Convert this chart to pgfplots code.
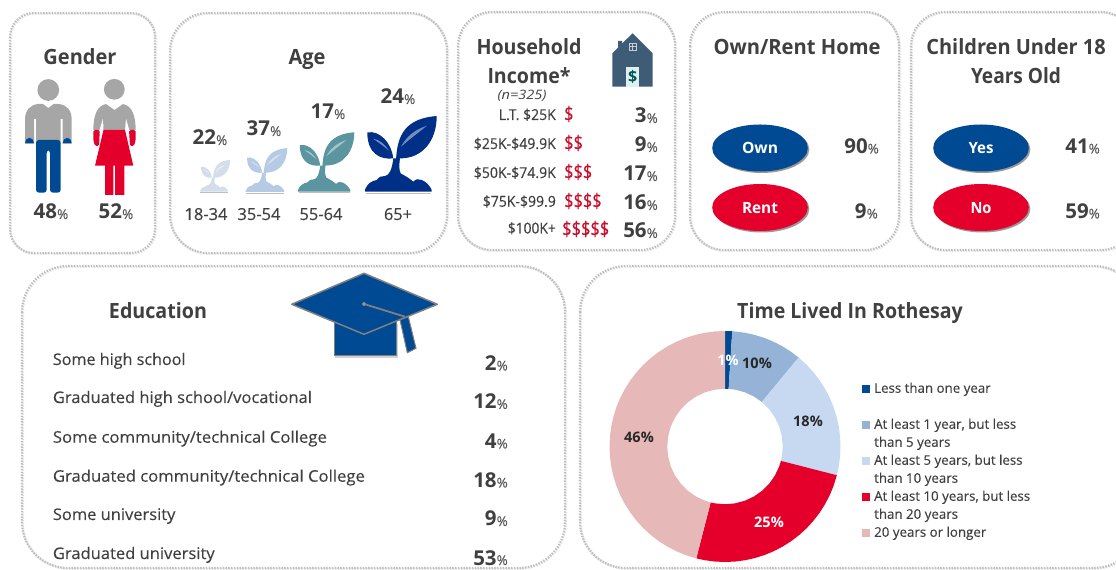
\documentclass[border=0pt]{standalone}
\usepackage{fontspec}
\setmainfont{Open Sans}
\newfontfamily\semib[FakeBold=0.25]{Open Sans}
\usepackage{graphicx}
\usepackage{pgfplots}
\pgfplotsset{compat=1.18}
\usepgfplotslibrary{polar}

\definecolor{ink}{HTML}{404040}
\definecolor{inksoft}{HTML}{595959}
\definecolor{navy}{HTML}{004A94}
\definecolor{brightred}{HTML}{E4002B}
\definecolor{manGray}{HTML}{A6A6A6}
\definecolor{edge}{HTML}{BDBDBD}
\definecolor{slice1}{HTML}{004A94}
\definecolor{slice2}{HTML}{95B3D7}
\definecolor{slice3}{HTML}{C6D9F1}
\definecolor{slice4}{HTML}{E4002B}
\definecolor{slice5}{HTML}{E6B9B8}
\definecolor{moneyred}{HTML}{C8102E}
\definecolor{housecol}{HTML}{3E5C76}
\definecolor{sproutA}{HTML}{D3DEEA}
\definecolor{sproutB}{HTML}{B5CAE3}
\definecolor{sproutC}{HTML}{5A95A0}
\definecolor{sproutD}{HTML}{002F87}

% text squeezed to a width
\newcommand{\fit}[2]{\resizebox{#1pt}{\height}{#2}}
\newcommand{\sz}[1]{\fontsize{#1}{#1}\selectfont}
\newcommand{\pct}[1]{{\bfseries\sz{20.5}\color{ink}#1}{\sz{13.5}\color{inksoft}\semib\%}}
\newcommand{\ttl}[2]{\sz{21}\bfseries\fit{#1}{#2}}
\newcommand{\panel}[5]{%
  \draw[black!10,line width=2.4pt,dash pattern=on 1.4pt off 1.4pt,rounded corners=#5pt]
    (#1+0.8,#2+0.8) rectangle (#3+0.8,#4+0.8);
  \draw[edge,line width=2.2pt,dash pattern=on 1.4pt off 1.4pt,rounded corners=#5pt]
    (#1,#2) rectangle (#3,#4);}
\newcommand{\sprout}[4]{%
  \begin{scope}[shift={(#1,#2)},scale=#3]
    \fill[black!25] (1,1) rectangle (66,2.2);
    \fill[#4] (0,-2) .. controls (2,-8) and (7,-11) .. (11.7,-11.7)
      .. controls (14,-15) and (17,-16) .. (20,-15.7)
      .. controls (24,-16) and (27,-22) .. (28.3,-33.3)
      -- (35,-33.3) .. controls (34,-26) and (34,-22) .. (35.7,-18.3)
      .. controls (40,-16) and (45,-13) .. (48.3,-10)
      .. controls (51,-13) and (54,-13) .. (56.7,-11.7)
      .. controls (61,-10) and (65,-6) .. (66.7,-1.7)
      -- (66.7,0) -- (0,0) -- cycle;
    \fill[#4] (31,-30) .. controls (31.7,-58.3) and (41.7,-73.3) .. (71.7,-75.7)
      .. controls (71.7,-51.7) and (58.3,-33.3) .. (35,-33.3) -- cycle;
    \fill[#4] (2.3,-59.3) .. controls (15,-61.7) and (26.7,-48.3) .. (28.3,-33.3)
      .. controls (15,-31.7) and (2.3,-38.3) .. cycle;
    \fill[white,opacity=.45] (36,-45) .. controls (42,-56) and (50,-62) .. (62,-66)
      .. controls (52,-58) and (44,-52) .. cycle;
    \fill[white,opacity=.45] (8,-53) .. controls (15,-52) and (20,-47) .. (24,-41)
      .. controls (18,-46) and (14,-49) .. cycle;
  \end{scope}}

\begin{document}
\begin{tikzpicture}
\useasboundingbox (0,0) rectangle (1116pt,570pt);
\clip (0,0) rectangle (1116pt,570pt);

\begin{scope}[x=1pt,y=-1pt,yshift=570pt,text=ink,
    every node/.style={inner sep=0pt}]
  % panels
  \panel{10}{13}{155}{253}{24}
  \panel{170}{13}{447}{253}{38}
  \panel{458}{12}{675}{250}{34}
  \panel{690}{12}{899}{250}{34}
  \panel{911}{12}{1135}{250}{34}
  \panel{22}{266}{565}{568}{46}
  \panel{580}{266}{1140}{568}{46}

  % man
  \fill[manGray] (48.3,90) circle (10.9);
  \fill[manGray] (25,143.3) -- (25,120) .. controls (25,110) and (30,105) .. (38,104)
    -- (43,104) -- (48.3,108) -- (53.6,104) -- (58.7,104)
    .. controls (67,105) and (71.7,110) .. (71.7,120) -- (71.7,143.3) -- (62.7,143.3)
    -- (62.7,119) -- (60.7,119) -- (60.7,143.3) -- (36,143.3) -- (36,119) -- (34,119)
    -- (34,143.3) -- cycle;
  \fill[navy,rounded corners=3pt] (36,140) -- (60.7,140) -- (60.7,192.7) -- (50,192.7)
    -- (50,150) -- (46.7,150) -- (46.7,192.7) -- (36,192.7) -- cycle;
  \fill[navy] (25,143.3) -- (34,143.3) arc[start angle=0,end angle=-180,x radius=4.5,y radius=5.5] -- cycle;
  \fill[navy] (62.7,143.3) -- (71.7,143.3) arc[start angle=0,end angle=-180,x radius=4.5,y radius=5.5] -- cycle;

  % woman
  \fill[manGray] (114.3,89.3) circle (10.4);
  \fill[manGray] (93.3,130) .. controls (93.5,115) and (97,106) .. (106,104)
    -- (114.5,110) -- (123,104) .. controls (132,106) and (135.5,115) .. (135.7,130)
    -- (129.3,130) -- (126,118) -- (125,130) -- (103.5,130) -- (103,118) -- (99.5,130) -- cycle;
  \fill[brightred,rounded corners=1.5pt] (93.3,130) -- (99.8,130) -- (99,146) -- (95,146) -- (93.3,140) -- cycle;
  \fill[brightred,rounded corners=1.5pt] (129,130) -- (135.7,130) -- (135.7,140) -- (134,146) -- (130,146) -- cycle;
  \fill[brightred] (103.5,130) -- (125,130) -- (133.3,165.7) -- (124.3,165.7) -- (124.3,195)
    -- (115,195) -- (115,165.7) -- (113.3,165.7) -- (113.3,195) -- (105,195) -- (105,165.7)
    -- (95,165.7) -- cycle;

  \node[anchor=base] at (80,65) {\ttl{73}{Gender}};
  \node[anchor=base] at (51,219) {\pct{48}};
  \node[anchor=base] at (116,219) {\pct{52}};

  % age
  \node[anchor=base] at (307,65) {\ttl{37}{Age}};
  \sprout{200}{191.7}{.42}{sproutA}
  \sprout{245.7}{192}{.58}{sproutB}
  \sprout{298}{191.7}{.785}{sproutC}
  \sprout{365}{191.7}{1}{sproutD}
  \node[anchor=base] at (210,145) {\pct{22}};
  \node[anchor=base] at (264,136) {\pct{37}};
  \node[anchor=base] at (328,119) {\pct{17}};
  \node[anchor=base] at (398,104) {\pct{24}};
  \node[anchor=base] at (206,220) {\sz{16.5}\semib\fit{43}{18-34}};
  \node[anchor=base] at (259,220) {\sz{16.5}\semib\fit{43}{35-54}};
  \node[anchor=base] at (321,220) {\sz{16.5}\semib\fit{43}{55-64}};
  \node[anchor=base] at (398,220) {\sz{16.5}\semib\fit{28}{65+}};

  % income
  \node[anchor=base] at (529,55) {\ttl{105}{Household}};
  \node[anchor=base] at (529,84) {\ttl{83}{Income*}};
  \node at (522,96) {\sz{13}\itshape\fit{49}{(n=325)}};
  \fill[housecol] (632.7,33.3) -- (652.6,53.3) -- (652.6,86.7) -- (612.3,86.7) -- (612.3,53.3)
    -- (618,47.5) -- (618,41) -- (622,41) -- (622,43.5) -- cycle;
  \draw[white!70!housecol,line width=.6pt] (629,43) rectangle (636.4,50) (632.7,43) -- (632.7,50) (629,46.5) -- (636.4,46.5);
  \fill[white!88!teal] (626,66.7) rectangle (639.4,86.7);
  \node[text=teal!70!black] at (632.7,76.5) {\sz{16}\bfseries\$};
  \foreach \y/\w/\t in {120/57/{L.T. \$25K},149/82/{\$25K-\$49.9K},178/82/{\$50K-\$74.9K},206.7/73/{\$75K-\$99.9},233.5/48/{\$100K+}}
    \node[anchor=base east] at (556,\y) {\sz{15}\semib\fit{\w}{\t}};
  \foreach \y/\w/\t in {121/9.3/{\$},150/18.7/{\$\$},179/28/{\$\$\$},208/37.4/{\$\$\$\$}}
    \node[anchor=base west,text=moneyred] at (564,\y) {\sz{20}\semib\fit{\w}{\t}};
  \node[anchor=base west,text=moneyred] at (562,236) {\sz{20}\semib\fit{47}{\$\$\$\$\$}};
  \foreach \y/\v in {123/3,152/9,181/17,210/16,238/56}
    \node[anchor=base east] at (658,\y) {\pct{\v}};

  % own / rent
  \node[anchor=base] at (797,55) {\ttl{167}{Own/Rent Home}};
  \foreach \cx/\cy/\c/\w/\t in {760/148/navy/36/Own,760/207.5/brightred/36/Rent,981/148/navy/25/Yes,981/207.5/brightred/21/No}{
    \fill[black!40] (\cx+1.5,\cy+1.5) ellipse [x radius=47.8,y radius=23.5];
    \fill[\c] (\cx,\cy) ellipse [x radius=47.8,y radius=23.5];
    \node[text=white,anchor=base] at (\cx,\cy+6) {\sz{15.5}\bfseries\fit{\w}{\t}};
  }
  \node[anchor=base east] at (879,153.5) {\pct{90}};
  \node[anchor=base east] at (878,218.5) {\pct{9}};

  % children
  \node[anchor=base] at (1016,55) {\ttl{179.4}{Children Under 18}};
  \node[anchor=base] at (1016,84) {\ttl{90}{Years Old}};
  \node[anchor=base east] at (1100,153.5) {\pct{41}};
  \node[anchor=base east] at (1100,218.5) {\pct{59}};

  % education
  \node[anchor=base] at (158,319) {\ttl{98}{Education}};
  \foreach \y/\w/\t in {365/132.7/{Some high school},403/259/{Graduated high school/vocational},442.7/274/{Some community/technical College},481.7/312/{Graduated community/technical College},520/122.5/{Some university},559/161.8/{Graduated university}}
    \node[anchor=base west] at (52.7,\y) {\sz{16}\semib\fit{\w}{\t}};
  \foreach \y/\v in {370.5/2,409/12,448.5/4,487.5/18,526/9,565/53}
    \node[anchor=base east] at (508,\y) {\pct{\v}};
  % cap
  \fill[black!18] (335,324) rectangle (398,358);
  \fill[navy,draw=black!50,line width=1pt] (334,320) rectangle (396,355.7);
  \fill[navy,draw=black!50,line width=1.5pt,line join=round] (291.7,304.3) -- (364,273.3) -- (437.3,304.3) -- (364,334.3) -- cycle;
  \draw[black!50,line width=1.8pt] (364,304) -- (405,316.7);
  \draw[black!50,fill=white!60!navy,line width=.8pt] (364,304) circle (1.8);
  \fill[navy,draw=black!50,line width=1pt] (400,320) -- (408.3,316.7) -- (416,348.3) -- (407.3,352.7) -- cycle;

  % donut
  \node[anchor=base] at (850,319) {\ttl{225.6}{Time Lived In Rothesay}};
\end{scope}

\begin{polaraxis}[
    at={(725pt,123.5pt)}, anchor=center,
    width=231pt, height=231pt, scale only axis,
    hide axis, clip=false,
    xmin=0, xmax=360, ymin=0, ymax=1,
    legend image code/.code={\fill[#1] (0pt,0pt) rectangle (7.5pt,7.5pt);},
    legend style={at={(1.093,0.788)}, anchor=north west, draw=none, fill=none,
      inner sep=0pt, row sep=0pt, column sep=4.5pt,
      font=\fontsize{13.3}{18}\selectfont\color{ink}\semib,
      nodes={inner sep=0pt,text depth=},
      cells={anchor=base west}},
  ]
  % percentages 1, 10, 18, 25, 46 clockwise from the top
  \addplot[draw=none,fill=slice1] coordinates {
    (90,1)(88,1)(86.4,1)(86.4,0.5)(90,0.5)} --cycle;
  \addlegendentry{\strut Less than one year}
  \addlegendimage{empty legend}
  \addlegendentry{\strut}
  \addplot[draw=none,fill=slice2] coordinates {
    (86.4,1)(80,1)(75,1)(70,1)(65,1)(60,1)(55,1)(50.4,1)
    (50.4,0.5)(60,0.5)(70,0.5)(80,0.5)(86.4,0.5)} --cycle;
  \addlegendentry{\vtop{\hbox{\strut At least 1 year, but less}\hbox{\strut than 5 years}}}
  \addplot[draw=none,fill=slice3] coordinates {
    (50.4,1)(45,1)(40,1)(35,1)(30,1)(25,1)(20,1)(15,1)(10,1)(5,1)(0,1)(-5,1)(-10,1)(-14.4,1)
    (-14.4,0.5)(-10,0.5)(0,0.5)(10,0.5)(20,0.5)(30,0.5)(40,0.5)(50.4,0.5)} --cycle;
  \addlegendentry{\vtop{\hbox{\strut At least 5 years, but less}\hbox{\strut than 10 years}}}
  \addplot[draw=none,fill=slice4] coordinates {
    (-14.4,1)(-20,1)(-25,1)(-30,1)(-35,1)(-40,1)(-45,1)(-50,1)(-55,1)(-60,1)(-65,1)(-70,1)
    (-75,1)(-80,1)(-85,1)(-90,1)(-95,1)(-100,1)(-104.4,1)
    (-104.4,0.5)(-100,0.5)(-90,0.5)(-80,0.5)(-70,0.5)(-60,0.5)(-50,0.5)(-40,0.5)(-30,0.5)(-20,0.5)(-14.4,0.5)} --cycle;
  \addlegendentry{\vtop{\hbox{\strut At least 10 years, but less}\hbox{\strut than 20 years}}}
  \addplot[draw=none,fill=slice5] coordinates {
    (-104.4,1)(-110,1)(-115,1)(-120,1)(-125,1)(-130,1)(-135,1)(-140,1)(-145,1)(-150,1)(-155,1)
    (-160,1)(-165,1)(-170,1)(-175,1)(-180,1)(-185,1)(-190,1)(-195,1)(-200,1)(-205,1)(-210,1)
    (-215,1)(-220,1)(-225,1)(-230,1)(-235,1)(-240,1)(-245,1)(-250,1)(-255,1)(-260,1)(-265,1)(-270,1)
    (-270,0.5)(-260,0.5)(-250,0.5)(-240,0.5)(-230,0.5)(-220,0.5)(-210,0.5)(-200,0.5)(-190,0.5)(-180,0.5)
    (-170,0.5)(-160,0.5)(-150,0.5)(-140,0.5)(-130,0.5)(-120,0.5)(-110,0.5)(-104.4,0.5)} --cycle;
  \addlegendentry{\strut 20 years or longer}
\end{polaraxis}

\begin{scope}[x=1pt,y=-1pt,yshift=570pt]
  \node[text=white] at (728,360) {\sz{14.5}\bfseries 1\%};
  \node[text=ink!60!black] at (757,363) {\sz{14.5}\bfseries 10\%};
  \node[text=ink!60!black] at (808,421) {\sz{14.5}\bfseries 18\%};
  \node[text=white] at (769,522) {\sz{14.5}\bfseries 25\%};
  \node[text=ink!60!black] at (639,437) {\sz{14.5}\bfseries 46\%};
\end{scope}
\end{tikzpicture}
\end{document}
